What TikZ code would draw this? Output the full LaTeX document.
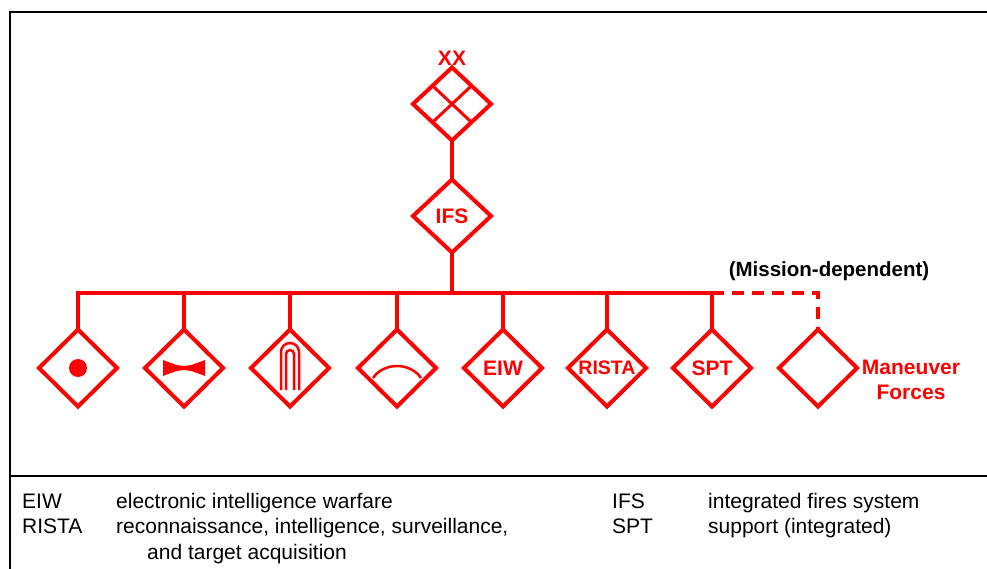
\documentclass[tikz,border=0pt]{standalone}
\usepackage{fontspec}
\setmainfont{Liberation Sans}
\usetikzlibrary{shapes.geometric}
\tikzset{
  unit/.style={diamond, draw=red, line width=4pt, inner sep=0pt, outer sep=0pt,
    minimum width=78pt, minimum height=77pt, text=red,
    font=\bfseries\fontsize{21}{24}\selectfont},
  hq/.style={unit, minimum height=73pt},
  link/.style={red, line width=4pt},
  sign/.style={red, line width=2.5pt},
  frame/.style={black, line width=2pt},
  lbl/.style={inner sep=0pt, font=\fontsize{21}{25}\selectfont},
}
\begin{document}
\begin{tikzpicture}[x=1pt, y=-1pt]
		\useasboundingbox (0,0) rectangle (987,569);
		\draw[frame] (987,12) -- (10,12) -- (10,569);
		\draw[frame] (10,476) -- (987,476);
		% headquarters
		\node[hq] (xx) at (452,104) {};
		\node[hq] (ifs) at (452,216) {IFS};
		\node[inner sep=0pt, anchor=base, text=red, font=\bfseries\fontsize{21}{24}\selectfont] (echelon) at (452,66) {XX};
		\draw[red, line width=3pt] (xx.north west) -- (xx.south east);
		\draw[red, line width=3pt] (xx.north east) -- (xx.south west);
		% subordinate units
		\node[unit] (dot) at (78,368) {};
		\node[unit] (bowtie) at (184,368) {};
		\node[unit] (arch) at (290,368) {};
		\node[unit] (arc) at (397,368) {};
		\node[unit] (eiw) at (503,368) {EIW};
		\node[unit] (rista) at (607,368) {\fontsize{19.5}{20}\selectfont RISTA};
		\node[unit] (spt) at (712,368) {SPT};
		\node[unit] (maneuver) at (818,368) {};
		\coordinate (bus) at (452,293);
		\draw[link] (xx.south) -- (ifs.north);
		\draw[link] (ifs.south) -- (bus);
		\draw[link] (dot.north) -- (dot.north |- bus) -- (spt.north |- bus) -- (spt.north);
		\foreach \n in {bowtie, arch, arc, eiw, rista}
			\draw[link] (\n.north) -- (\n.north |- bus);
		\draw[link, dash pattern=on 12pt off 8pt] (spt.north |- bus) -- (maneuver.north |- bus) -- (maneuver.north);
		% unit signs
		\fill[red] (dot) circle (9);
		\fill[red, shift={(bowtie)}] (-21,-8) .. controls (-8,-3) .. (0,-2) .. controls (8,-3) .. (21,-8)
			-- (21,8) .. controls (8,3) .. (0,2) .. controls (-8,3) .. (-21,8) -- cycle;
		\draw[sign, shift={(arch)}] (-9,22) -- (-9,-16) arc (180:360:9) -- (9,22);
		\draw[sign, shift={(arch)}] (-4,22) -- (-4,-14) arc (180:360:4) -- (4,22);
		\draw[sign, shift={(arc)}] (-24,10) .. controls (-13,-6) and (13,-6) .. (24,10);
		% texts
		\node[font=\bfseries\fontsize{20.5}{24}\selectfont] (mission) at (829,271) {(Mission-dependent)};
		\node[align=center, text=red, font=\bfseries\fontsize{21}{25}\selectfont] (forces) at (911,380) {Maneuver\\Forces};
		\node[lbl, anchor=base west] (eiwabbr) at (22,508) {EIW};
		\node[lbl, anchor=base west] (eiwtext) at (116,508) {electronic intelligence warfare};
		\node[lbl, anchor=base west] (ristaabbr) at (22,533) {RISTA};
		\node[lbl, anchor=base west] (ristatext) at (116,533) {reconnaissance, intelligence, surveillance,};
		\node[lbl, anchor=base west] (ristamore) at (147,559) {and target acquisition};
		\node[lbl, anchor=base west] (ifsabbr) at (612,508) {IFS};
		\node[lbl, anchor=base west] (ifstext) at (708,508) {integrated fires system};
		\node[lbl, anchor=base west] (sptabbr) at (612,533) {SPT};
		\node[lbl, anchor=base west] (spttext) at (708,533) {support (integrated)};
	\end{tikzpicture}
\end{document}
